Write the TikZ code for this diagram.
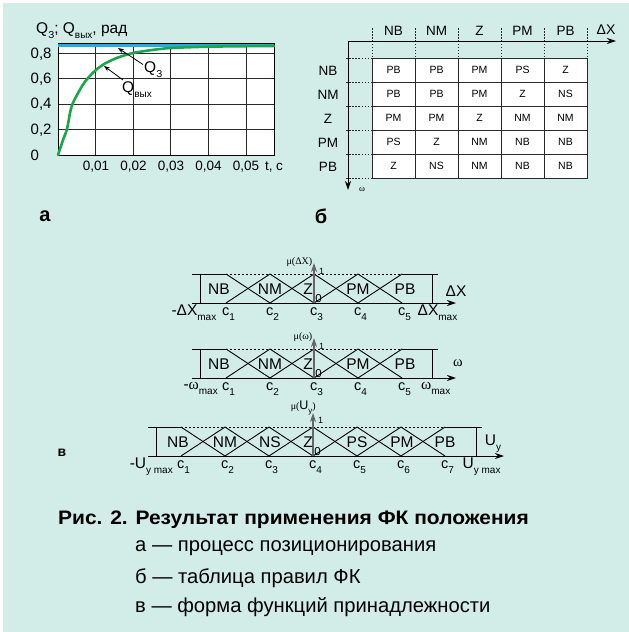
\documentclass[tikz,border=0pt]{standalone}
\usepackage{fontspec}
\setmainfont{Liberation Sans}
\newfontfamily\serifgr{Liberation Serif}
\usetikzlibrary{arrows.meta}
\definecolor{bgteal}{HTML}{D2EDE7}
\definecolor{curvegreen}{HTML}{1BA64B}
\definecolor{refblue}{HTML}{2AA9E0}
\definecolor{inkgray}{HTML}{2A2A2A}
\newcommand{\lsub}[1]{\raisebox{-0.32em}{\fontsize{10}{11}\selectfont #1}}
\newcommand{\ssub}[1]{\raisebox{-0.28em}{\fontsize{8}{9}\selectfont #1}}
\tikzset{
  lbl/.style={inner sep=0pt, font=\fontsize{15.5}{17}\selectfont},
  ytick/.style={inner sep=0pt, anchor=west, font=\fontsize{15}{17}\selectfont},
  xtick/.style={inner sep=0pt, font=\fontsize{13.5}{15}\selectfont},
  hdr/.style={inner sep=0pt, font=\fontsize{13.5}{15}\selectfont},
  cellbox/.style={draw=inkgray, line width=1pt, fill=white, minimum width=43pt, minimum height=24pt, inner sep=0pt, font=\fontsize{10.5}{12}\selectfont},
  tdots/.style={inkgray, line width=1pt, dash pattern=on 1.5pt off 1.6pt},
  grd/.style={inkgray, line width=0.8pt},
  axarrow/.style={black, line width=1pt, -{Stealth[length=9pt, width=6pt]}},
  mfline/.style={black, line width=0.9pt},
  mfdash/.style={black, line width=0.9pt, dash pattern=on 2pt off 2pt},
  muaxis/.style={draw=gray!80!black, line width=1.2pt, -{Stealth[length=9pt, width=6pt, fill=black]}},
  termlbl/.style={inner sep=0pt, font=\fontsize{15.5}{17}\selectfont},
  clbl/.style={inner sep=0pt, font=\fontsize{14.5}{16}\selectfont},
  mulbl/.style={inner sep=0pt, anchor=east, font=\serifgr\fontsize{10}{11}\selectfont},
  tiny/.style={inner sep=0pt, font=\fontsize{9}{10}\selectfont},
  zero/.style={inner sep=0pt, font=\fontsize{11.5}{12}\selectfont},
  partlbl/.style={inner sep=0pt, font=\bfseries\fontsize{20}{22}\selectfont},
  capt/.style={inner sep=0pt, anchor=west, font=\fontsize{20.2}{22}\selectfont},
  pointer/.style={black, line width=0.8pt, -{Stealth[length=6pt, width=4.5pt]}}
}
\begin{document}
\begin{tikzpicture}[x=1pt,y=-1pt]
\useasboundingbox (0,0) rectangle (629,632);
\fill[white] (0,0) rectangle (629,632);
\fill[bgteal] (3,3) rectangle (629,632);

% ---------------- (a) plot ----------------
\fill[white] (58,43.5) rectangle (274,155);
\foreach \i in {1,...,5} \draw[grd] (58+37.6*\i,43.5) -- (58+37.6*\i,155);
\foreach \i in {1,...,4} \draw[grd] (58,155-25.4*\i) -- (274,155-25.4*\i);
\draw[black, line width=1pt] (58,43.5) rectangle (274,155);
\draw[refblue, line width=2.6pt] (58,45.2) -- (274,45.2);
\draw[curvegreen, line width=2.6pt, line cap=round] plot[smooth, tension=0.5] coordinates {
  (58,155) (63,140) (67,129) (70,113) (72.5,104) (77,95) (83,84.5) (88,78) (96,70)
  (105,63.5) (118,57.5) (133,53) (152,50) (171,48) (208,46.7) (246,46.2) (274,46)};
\node[lbl, anchor=west] (ytitle) at (36,31) {Q\lsub{З}; Q\lsub{вых}, рад};
\node[ytick] (y8) at (30.5,54) {0,8};
\node[ytick] (y6) at (30.5,79) {0,6};
\node[ytick] (y4) at (30.5,104.5) {0,4};
\node[ytick] (y2) at (30.5,130) {0,2};
\node[ytick] (y0) at (30.5,155.5) {0};
\node[xtick] (x1) at (96,167) {0,01};
\node[xtick] (x2) at (133.5,167) {0,02};
\node[xtick] (x3) at (171,167) {0,03};
\node[xtick] (x4) at (208.5,167) {0,04};
\node[xtick] (x5) at (246,167) {0,05};
\node[xtick] (xt) at (274,167) {t, c};
\node[lbl, anchor=west] (q3lbl) at (144,70) {Q\lsub{З}};
\node[lbl, anchor=west] (qoutlbl) at (122,90) {Q\lsub{вых}};
\coordinate (q3tip) at (118,48);
\coordinate (qouttip) at (104,66);
\coordinate (q3start) at (143,64.5);
\coordinate (qoutstart) at (123,80);
\draw[pointer] (q3start) -- (q3tip);
\draw[pointer] (qoutstart) -- (qouttip);
\node[partlbl] (pa) at (45,216) {а};

% ---------------- (b) table ----------------
\foreach \x in {372,415,458,501,544,587} \draw[tdots] (\x,28) -- (\x,58);
\foreach \y in {58,82,106,130,154,178} \draw[tdots] (346,\y) -- (372,\y);
\draw[axarrow] (348,41) -- (616,41);
\draw[axarrow] (348,41) -- (348,190);
\foreach \t [count=\j] in {NB,NM,Z,PM,PB}
  \node[hdr] (h\j) at (372+43*\j-21.5,31) {\t};
\foreach \t [count=\i] in {NB,NM,Z,PM,PB}
  \node[hdr] (r\i) at (328,58+24*\i-11) {\t};
\node[hdr, font=\fontsize{14}{15}\selectfont] (dxlbl) at (606,30) {ΔX};
\node[inner sep=0pt, font=\serifgr\fontsize{9}{10}\selectfont] (omlbl) at (362,189) {ω};
\foreach \row [count=\i] in {{PB,PB,PM,PS,Z},{PB,PB,PM,Z,NS},{PM,PM,Z,NM,NM},{PS,Z,NM,NB,NB},{Z,NS,NM,NB,NB}}
  \foreach \t [count=\j] in \row
    \node[cellbox] (cell-\i-\j) at (372+43*\j-21.5,58+24*\i-12) {\t};
\node[partlbl] (pb) at (321,216) {б};

% ---------------- (c) membership functions ----------------
% diagram 1: Delta X
\draw[mfline] (192,274) -- (226,274);
\draw[mfline] (402,274) -- (438,274);
\draw[mfdash] (226,274) -- (402,274);
\draw[mfline] (200,274) -- (200,303);
\draw[mfline] (432,274) -- (432,303);
\foreach \a/\b in {226/270,270/314,314/358,358/402} {
  \draw[mfline] (\a,274) -- (\b,303);
  \draw[mfline] (\a,303) -- (\b,274);
}
\draw[axarrow] (192,303) -- (456,303);
\draw[muaxis] (314,303) -- (314,263);
\node[mulbl] (mu1) at (312.5,262) {μ(ΔX)};
\node[tiny] (one1) at (321.5,271) {1};
\node[zero] (zero1) at (318.5,299) {0};
\foreach \t/\x in {NB/219,NM/270,Z/308,PM/358,PB/405}
  \node[termlbl] (t1-\t) at (\x,289.5) {\t};
\node[termlbl] (ax1) at (456,291) {ΔX};
\foreach \x [count=\i] in {226,270,314,358,402}
  \node[clbl] (c1-\i) at (\x+2.5,314) {c\lsub{\i}};
\node[termlbl, anchor=east] (min1) at (216.5,313) {-ΔX\lsub{max}};
\node[termlbl, anchor=west] (max1) at (417.5,313) {ΔX\lsub{max}};

% diagram 2: omega
\draw[mfline] (192,349) -- (226,349);
\draw[mfline] (402,349) -- (438,349);
\draw[mfdash] (226,349) -- (402,349);
\draw[mfline] (200,349) -- (200,378);
\draw[mfline] (432,349) -- (432,378);
\foreach \a/\b in {226/270,270/314,314/358,358/402} {
  \draw[mfline] (\a,349) -- (\b,378);
  \draw[mfline] (\a,378) -- (\b,349);
}
\draw[axarrow] (192,378) -- (456,378);
\draw[muaxis] (314,378) -- (314,338);
\node[mulbl] (mu2) at (312.5,337) {μ(ω)};
\node[tiny] (one2) at (321.5,346) {1};
\node[zero] (zero2) at (318.5,374) {0};
\foreach \t/\x in {NB/219,NM/270,Z/308,PM/358,PB/405}
  \node[termlbl] (t2-\t) at (\x,364.5) {\t};
\node[inner sep=0pt, font=\serifgr\fontsize{14.5}{16}\selectfont] (ax2) at (458,363) {ω};
\foreach \x [count=\i] in {226,270,314,358,402}
  \node[clbl] (c2-\i) at (\x+2.5,389) {c\lsub{\i}};
\node[termlbl, anchor=east] (min2) at (218,388) {-{\serifgr ω}\lsub{max}};
\node[termlbl, anchor=west] (max2) at (421,388) {{\serifgr ω}\lsub{max}};

% diagram 3: U_y
\draw[mfline] (148,427) -- (181,427);
\draw[mfline] (445,427) -- (482,427);
\draw[mfdash] (181,427) -- (445,427);
\draw[mfline] (156,427) -- (156,456);
\draw[mfline] (476,427) -- (476,456);
\foreach \a/\b in {181/225,225/269,269/313,313/357,357/401,401/445} {
  \draw[mfline] (\a,427) -- (\b,456);
  \draw[mfline] (\a,456) -- (\b,427);
}
\draw[axarrow] (148,456) -- (504,456);
\draw[muaxis] (313,456) -- (313,413);
\node[inner sep=0pt, anchor=east, font=\fontsize{12.5}{13}\selectfont] (mu3) at (316,408) {{\serifgr\fontsize{10}{11}\selectfont μ(}U\ssub{y}{\serifgr\fontsize{10}{11}\selectfont )}};
\node[tiny] (one3) at (320.5,420) {1};
\node[zero] (zero3) at (317.5,452) {0};
\foreach \t/\x in {NB/178,NM/225,NS/270,Z/308,PS/357,PM/402,PB/445}
  \node[termlbl] (t3-\t) at (\x,442.5) {\t};
\node[termlbl] (ax3) at (493,444) {U\lsub{y}};
\foreach \x [count=\i] in {181,225,269,313,357,401,445}
  \node[clbl] (c3-\i) at (\x+2.5,467) {c\lsub{\i}};
\node[termlbl, anchor=east] (min3) at (173,467) {-U\lsub{y max}};
\node[termlbl, anchor=west] (max3) at (462.5,467) {U\lsub{y max}};
\node[inner sep=0pt, font=\bfseries\fontsize{14}{16}\selectfont] (pc) at (62,453) {в};

% ---------------- caption ----------------
\node[capt, font=\bfseries\fontsize{19.5}{21}\selectfont] (cap0) at (58,520) {\scalebox{1.075}[1]{Рис. 2. Результат применения ФК положения}};
\node[capt] (cap1) at (135,548) {а — процесс позиционирования};
\node[capt] (cap2) at (135,578) {б — таблица правил ФК};
\node[capt] (cap3) at (135,607.5) {в — форма функций принадлежности};
\end{tikzpicture}
\end{document}
